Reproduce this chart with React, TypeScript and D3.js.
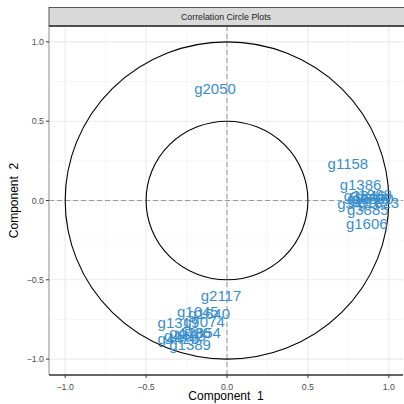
import React from "react";
import * as d3 from "d3";

const title = "Correlation Circle Plots";
const xTicks = [-1, -0.5, 0, 0.5, 1];
const yTicks = [-1, -0.5, 0, 0.5, 1];
const minorTicks = [-0.75, -0.25, 0.25, 0.75];
const circleRadii = [1, 0.5];

const varNames = [
  "g2050", "g1158", "g1386", "g1606", "g3885", "g1623", "g3473", "g3846", "g1988", "g3616", "g3560",
  "g2117", "g1645", "g1319", "g7074", "g1640", "g2854", "g4483", "g4486", "g4426", "g1389",
];
const comp1 = [
  -0.074, 0.747, 0.825, 0.864, 0.87, 0.935, 0.81, 0.85, 0.89, 0.87, 0.9,
  -0.037, -0.18, -0.30, -0.142, -0.11, -0.167, -0.26, -0.228, -0.30, -0.228,
];
const comp2 = [
  0.703, 0.236, 0.098, -0.142, -0.054, -0.01, -0.02, 0.03, 0.04, 0.01, 0.015,
  -0.596, -0.70, -0.766, -0.76, -0.71, -0.835, -0.85, -0.835, -0.87, -0.91,
];

export default function App() {
  const W = 404, H = 404;
  const x = d3.scaleLinear().domain([-1.1, 1.1]).range([49, 405]);
  const y = d3.scaleLinear().domain([-1.1, 1.1]).range([375, 26]);
  const [x0, x1] = [49, 403];
  const [y0, y1] = [26, 375];
  const fmt = d3.format(".1f");
  const font = "'Liberation Sans', Arial, sans-serif";
  return (
    <svg width={W} height={H} style={{ position: "absolute", left: 0, top: 0 }}>
      <rect x={0} y={0} width={W} height={H} fill="#fff" />
      {minorTicks.map((t) => (
        <g key={"m" + t}>
          <line x1={x(t)} x2={x(t)} y1={y0} y2={y1} stroke="#F2F2F2" strokeWidth={0.6} />
          <line x1={x0} x2={x1} y1={y(t)} y2={y(t)} stroke="#F2F2F2" strokeWidth={0.6} />
        </g>
      ))}
      {xTicks.map((t) => (
        <line key={"gx" + t} x1={x(t)} x2={x(t)} y1={y0} y2={y1} stroke="#EBEBEB" strokeWidth={1.1} />
      ))}
      {yTicks.map((t) => (
        <line key={"gy" + t} x1={x0} x2={x1} y1={y(t)} y2={y(t)} stroke="#EBEBEB" strokeWidth={1.1} />
      ))}
      <line x1={x(0)} x2={x(0)} y1={y0} y2={y1} stroke="#999" strokeDasharray="5,3" strokeWidth={1} />
      <line x1={x0} x2={x1} y1={y(0)} y2={y(0)} stroke="#999" strokeDasharray="5,3" strokeWidth={1} />
      {circleRadii.map((r) => (
        <ellipse key={"c" + r} cx={x(0)} cy={y(0)} rx={x(r) - x(0)} ry={y(0) - y(r)} fill="none" stroke="#000" strokeWidth={1.1} />
      ))}
      {varNames.map((n, i) => (
        <text key={n} x={x(comp1[i])} y={y(comp2[i])} textAnchor="middle" dominantBaseline="central"
          fontFamily={font} fontSize={15} fill="#388ECC">{n}</text>
      ))}
      <line x1={x0} x2={x0} y1={y0} y2={y1} stroke="#B3B3B3" strokeWidth={1.5} />
      <line x1={x0} x2={x1} y1={y1} y2={y1} stroke="#333" strokeWidth={1.3} />
      <rect x={x0} y={7.5} width={x1 - x0 + 2} height={18.5} fill="#D9D9D9" stroke="#333" strokeWidth={0.8} />
      <line x1={x0} x2={x1 + 2} y1={26} y2={26} stroke="#333" strokeWidth={1.3} />
      <text x={(x0 + x1) / 2} y={17} textAnchor="middle" dominantBaseline="central" fontFamily={font} fontSize={8.8} fill="#1A1A1A">{title}</text>
      {xTicks.map((t) => (
        <g key={"tx" + t}>
          <line x1={x(t)} x2={x(t)} y1={y1} y2={y1 + 3} stroke="#333" />
          <text x={x(t)} y={y1 + 12} textAnchor="middle" dominantBaseline="central" fontFamily={font} fontSize={8.8} fill="#4D4D4D">{fmt(t)}</text>
        </g>
      ))}
      {yTicks.map((t) => (
        <g key={"ty" + t}>
          <line x1={x0 - 3} x2={x0} y1={y(t)} y2={y(t)} stroke="#333" />
          <text x={x0 - 5} y={y(t)} textAnchor="end" dominantBaseline="central" fontFamily={font} fontSize={8.8} fill="#4D4D4D">{fmt(t)}</text>
        </g>
      ))}
      <text x={(x0 + x1) / 2} y={396} textAnchor="middle" dominantBaseline="central" fontFamily={font} fontSize={12} fill="#000" style={{ whiteSpace: "pre" }}>{"Component  1"}</text>
      <text transform={`translate(14,${(y0 + y1) / 2}) rotate(-90)`} textAnchor="middle" dominantBaseline="central" fontFamily={font} fontSize={12} fill="#000" style={{ whiteSpace: "pre" }}>{"Component  2"}</text>
    </svg>
  );
}
